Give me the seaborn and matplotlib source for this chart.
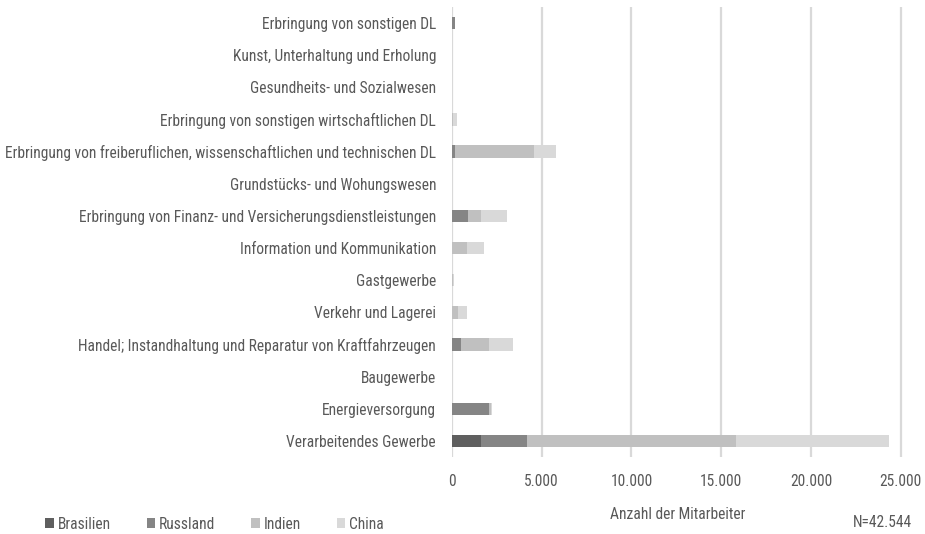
import matplotlib
matplotlib.use("Agg")
import matplotlib.pyplot as plt
from matplotlib.patches import Patch
from matplotlib.ticker import FuncFormatter
import seaborn as sns
import pandas as pd

sns.set_theme(style="white")
plt.rcParams["font.family"] = ["Roboto Condensed", "Archivo Narrow",
                               "Liberation Sans Narrow", "DejaVu Sans"]
plt.rcParams["font.stretch"] = "condensed"

# Branchen (von oben nach unten)
branchen = [
    "Erbringung von sonstigen DL",
    "Kunst, Unterhaltung und Erholung",
    "Gesundheits- und Sozialwesen",
    "Erbringung von sonstigen wirtschaftlichen DL",
    "Erbringung von freiberuflichen, wissenschaftlichen und technischen DL",
    "Grundstücks- und Wohungswesen",
    "Erbringung von Finanz- und Versicherungsdienstleistungen",
    "Information und Kommunikation",
    "Gastgewerbe",
    "Verkehr und Lagerei",
    "Handel; Instandhaltung und Reparatur von Kraftfahrzeugen",
    "Baugewerbe",
    "Energieversorgung",
    "Verarbeitendes Gewerbe",
]

# Mitarbeiter je Herkunftsland
brasilien = [0, 0, 0, 0, 0, 0, 0, 0, 0, 0, 0, 0, 0, 1615]
russland = [170, 0, 0, 0, 170, 0, 890, 0, 0, 0, 485, 0, 2080, 2565]
indien = [0, 0, 0, 80, 4400, 0, 725, 835, 80, 320, 1575, 0, 100, 11620]
china = [0, 0, 0, 180, 1220, 0, 1430, 945, 50, 515, 1320, 40, 65, 8540]

laender = ["Brasilien", "Russland", "Indien", "China"]
farben = ["#5f5f5f", "#858585", "#c0c0c0", "#d9d9d9"]
xticks = [0, 5000, 10000, 15000, 20000, 25000]
text_farbe = "#595959"
fs = 11.2

df = pd.DataFrame({"Branche": branchen, "Brasilien": brasilien,
                   "Russland": russland, "Indien": indien, "China": china})
kum = df[laender].cumsum(axis=1)

xmax = 25200
x0, px25k = 452, 448.7
fig = plt.figure(figsize=(9.25, 5.34), dpi=100)
ax = fig.add_axes([x0 / 925, 1 - 457 / 534, px25k * xmax / 25000 / 925, (457 - 7) / 534])

# gestapelte Balken: kumulierte Summen von hinten nach vorne zeichnen
for land, farbe in reversed(list(zip(laender, farben))):
    sns.barplot(x=kum[land], y=df["Branche"], orient="h", color=farbe,
                width=0.39, saturation=1, ax=ax, zorder=3, linewidth=0)

ax.set_xlim(0, xmax)
ax.set_ylim(len(branchen) - 0.5, -0.5)
ax.set_xticks(xticks)
ax.xaxis.set_major_formatter(FuncFormatter(lambda v, p: f"{int(v):,}".replace(",", ".")))
ax.grid(axis="x", color="#d9d9d9", linewidth=1.6, zorder=0)
ax.grid(axis="y", visible=False)
for s in ax.spines.values():
    s.set_visible(False)
ax.tick_params(axis="both", length=0, colors=text_farbe, labelsize=fs)
ax.tick_params(axis="y", pad=11.5)
ax.tick_params(axis="x", pad=12)
ax.set_ylabel("")
ax.set_xlabel("Anzahl der Mitarbeiter", color=text_farbe, fontsize=fs, labelpad=13)

handles = [Patch(facecolor=f, edgecolor="none", label=l) for l, f in zip(laender, farben)]
fig.legend(handles=handles, loc="lower left", bbox_to_anchor=(0.034, -0.022), ncol=4,
           frameon=False, fontsize=fs, handlelength=0.55, handleheight=0.6,
           handletextpad=0.25, columnspacing=2.3, labelcolor=text_farbe)

fig.text(0.986, 0.008, "N=42.544", ha="right", va="bottom", color=text_farbe, fontsize=fs)

fig.savefig("out.png", dpi=100, facecolor="white")
